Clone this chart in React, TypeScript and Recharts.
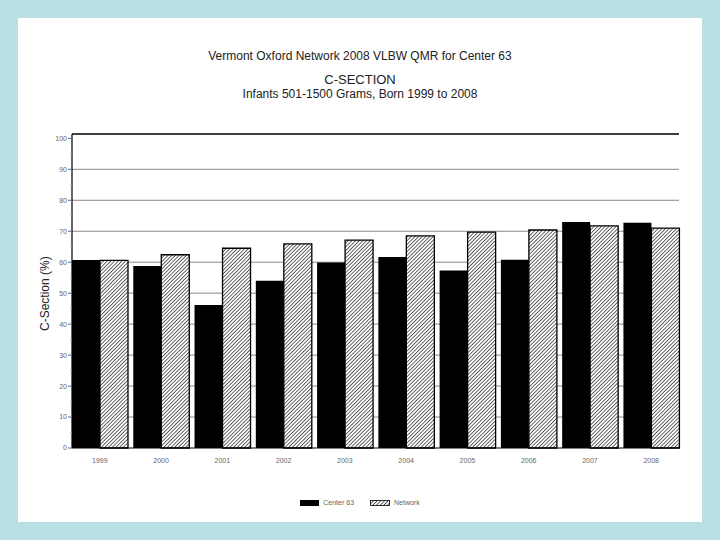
import React from "react";
import { BarChart, Bar, XAxis, YAxis, CartesianGrid, ReferenceLine } from "recharts";

const years = ["1999", "2000", "2001", "2002", "2003", "2004", "2005", "2006", "2007", "2008"];
const center63 = [60.7, 58.8, 46.2, 54.0, 59.9, 61.7, 57.3, 60.8, 73.0, 72.7];
const network = [60.6, 62.4, 64.5, 65.9, 67.1, 68.5, 69.7, 70.4, 71.7, 71.0];
const yTicks = [0, 5, 10, 15, 20, 25, 30, 35, 40, 45, 50, 55, 60, 65, 70, 75, 80, 85, 90, 95, 100];
const gridTicks = [10, 20, 30, 40, 50, 60, 70, 80, 90];
const Y_MAX = 101.4;

const data = years.map((year, i) => ({ year, center: center63[i], network: network[i] }));

const FONT = "'Liberation Sans', Arial, sans-serif";

const YTick = (props: any) => {
  const { x, y, payload } = props;
  const major = payload.value % 10 === 0;
  return (
    <g>
      <line x1={x - (major ? 4 : 2)} y1={y} x2={x} y2={y} stroke={major ? "#666" : "#aaa"} strokeWidth={1} />
      {major && (
        <text x={x - 5} y={y} dy="0.35em" textAnchor="end" fontSize={7} fill="#666" fontFamily={FONT}>
          {payload.value}
        </text>
      )}
    </g>
  );
};

const Hatch = ({ id }: { id: string }) => (
  <pattern id={id} width="2.6" height="2.6" patternUnits="userSpaceOnUse" patternTransform="rotate(45)">
    <rect width="2.6" height="2.6" fill="#fff" />
    <line x1="0" y1="0" x2="0" y2="2.6" stroke="#000" strokeWidth="1.2" />
  </pattern>
);

export default function App() {
  return (
    <div style={{ position: "absolute", left: 0, top: 0, width: 720, height: 540, background: "#b8dfe1", fontFamily: FONT }}>
      <div style={{ position: "absolute", left: 18, top: 18, width: 684, height: 504, background: "#fff" }} />
      <div style={{ position: "absolute", left: 0, top: 49, width: 720, textAlign: "center", fontSize: 12, color: "#222" }}>
        Vermont Oxford Network 2008 VLBW QMR for Center 63
      </div>
      <div style={{ position: "absolute", left: 0, top: 72, width: 720, textAlign: "center", fontSize: 13, color: "#222" }}>
        C-SECTION
      </div>
      <div style={{ position: "absolute", left: 0, top: 87, width: 720, textAlign: "center", fontSize: 12, color: "#222" }}>
        Infants 501-1500 Grams, Born 1999 to 2008
      </div>
      <div style={{ position: "absolute", left: 0, top: 0 }}>
        <BarChart
          width={720}
          height={540}
          data={data}
          margin={{ top: 134, right: 41, left: 32, bottom: 62 }}
          barCategoryGap={2.85}
          barGap={0}
        >
          <defs>
            <Hatch id="hatch" />
          </defs>
          <CartesianGrid vertical={false} horizontalValues={gridTicks} stroke="#888" strokeWidth={1} />
          <XAxis
            dataKey="year"
            height={30}
            padding={{ left: -2.85, right: -2.85 }}
            axisLine={{ stroke: "#000", strokeWidth: 1.2 }}
            tickLine={false}
            tickSize={0}
            tickMargin={10}
            tick={{ fontSize: 7, fill: "#666", fontFamily: FONT }}
            interval={0}
          />
          <YAxis
            width={40}
            domain={[0, Y_MAX]}
            ticks={yTicks}
            interval={0}
            tickSize={0}
            tickMargin={0}
            tickLine={false}
            tick={<YTick />}
            axisLine={{ stroke: "#000", strokeWidth: 1.2 }}
            label={{ value: "C-Section (%)", angle: -90, position: "insideLeft", offset: 13, dy: 40, fontSize: 12, fill: "#222", fontFamily: FONT }}
          />
          <YAxis yAxisId="r" orientation="right" width={0} domain={[0, Y_MAX]} ticks={gridTicks} tick={false} tickLine={false} axisLine={{ stroke: "#000", strokeWidth: 1.5 }} />
          <ReferenceLine y={Y_MAX} stroke="#000" strokeWidth={1.5} ifOverflow="visible" />
          <Bar dataKey="center" name="Center 63" fill="#000" isAnimationActive={false} />
          <Bar dataKey="network" name="Network" fill="url(#hatch)" stroke="#000" strokeWidth={1.3} isAnimationActive={false} />
        </BarChart>
      </div>
      <div style={{ position: "absolute", left: 0, top: 499, width: 720, display: "flex", justifyContent: "center", alignItems: "center", fontSize: 7, color: "#666", gap: 4 }}>
        <svg width={19} height={6}>
          <rect width={19} height={6} fill="#000" />
        </svg>
        <span style={{ marginRight: 12 }}>Center 63</span>
        <svg width={20} height={6}>
          <defs>
            <Hatch id="hatch2" />
          </defs>
          <rect x={0.5} y={0.5} width={19} height={5} fill="url(#hatch2)" stroke="#000" strokeWidth={0.8} />
        </svg>
        <span>Network</span>
      </div>
    </div>
  );
}
